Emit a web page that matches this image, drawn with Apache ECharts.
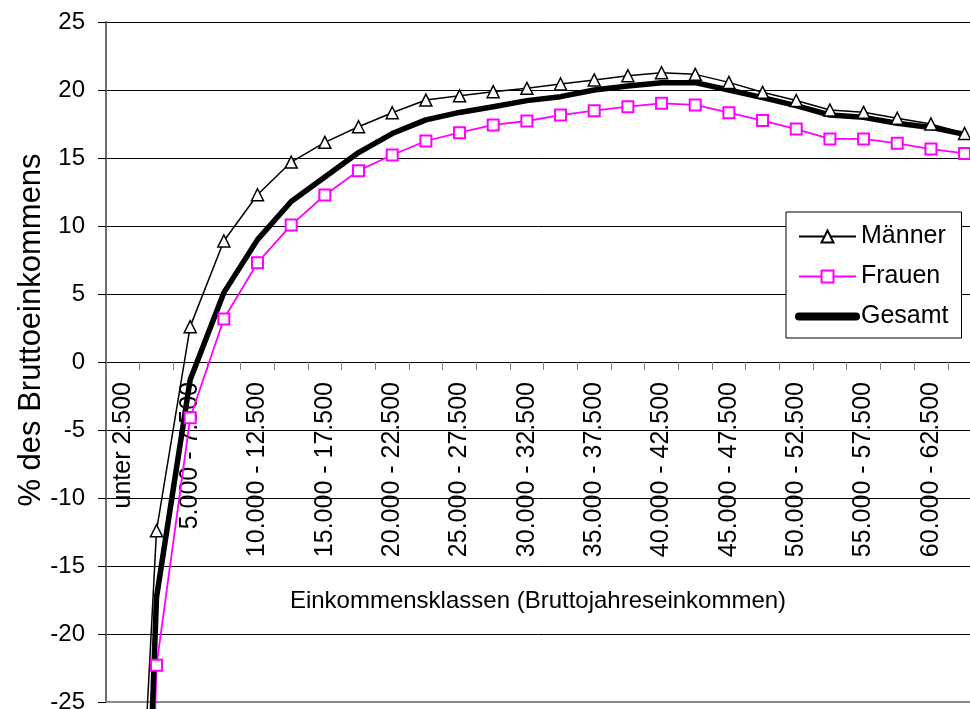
<!DOCTYPE html>
<html>
<head>
<meta charset="utf-8">
<script src="https://cdn.jsdelivr.net/npm/echarts@6/dist/echarts.min.js"></script>
<style>
  html, body { margin: 0; padding: 0; background: #fff; }
  #chart { width: 970px; height: 709px; }
</style>
</head>
<body>
<div id="chart"></div>
<script>
// Einkommensklassen (Bruttojahreseinkommen, EUR)
const categories = [
  "unter 2.500", "2.500 - 5.000", "5.000 - 7.500", "7.500 - 10.000",
  "10.000 - 12.500", "12.500 - 15.000", "15.000 - 17.500", "17.500 - 20.000",
  "20.000 - 22.500", "22.500 - 25.000", "25.000 - 27.500", "27.500 - 30.000",
  "30.000 - 32.500", "32.500 - 35.000", "35.000 - 37.500", "37.500 - 40.000",
  "40.000 - 42.500", "42.500 - 45.000", "45.000 - 47.500", "47.500 - 50.000",
  "50.000 - 52.500", "52.500 - 55.000", "55.000 - 57.500", "57.500 - 60.000",
  "60.000 - 62.500", "62.500 - 65.000"
];

// Anteil in % des Bruttoeinkommens
const maenner = [-60, -12.4, 2.6, 8.9, 12.3, 14.7, 16.15, 17.3, 18.33, 19.26,
  19.57, 19.88, 20.12, 20.44, 20.74, 21.05, 21.27, 21.15, 20.56, 19.83,
  19.23, 18.53, 18.36, 17.92, 17.5, 16.8];
const frauen = [-110, -22.3, -4.1, 3.16, 7.3, 10.07, 12.28, 14.07, 15.22, 16.25,
  16.86, 17.43, 17.72, 18.16, 18.48, 18.77, 19.02, 18.9, 18.33, 17.75,
  17.13, 16.4, 16.4, 16.08, 15.66, 15.34];
const gesamt = [-85, -17.3, -1.3, 5.1, 9.0, 11.8, 13.6, 15.4, 16.8, 17.8,
  18.35, 18.77, 19.22, 19.51, 20.0, 20.29, 20.54, 20.54, 20.0, 19.44,
  18.85, 18.16, 17.99, 17.55, 17.25, 16.74];

const yMin = -25, yMax = 25, yStep = 5;

const FONT = "'Liberation Sans', Arial, sans-serif";
const chart = echarts.init(document.getElementById('chart'), null, { renderer: 'canvas' });

// plot frame
const gridTop = 22, gridHeight = 680, bandWidth = 33.67;
// the category axis is drawn through value 0
const zeroOffset = -gridHeight * (0 - yMin) / (yMax - yMin);

chart.setOption({
  animation: false,
  backgroundColor: '#ffffff',
  textStyle: { fontFamily: FONT, color: '#000' },
  grid: {
    left: 106, top: gridTop,
    width: bandWidth * categories.length, height: gridHeight,
    containLabel: false, outerBoundsMode: 'none'
  },
  xAxis: [{
    type: 'category',
    data: categories,
    boundaryGap: true,
    position: 'bottom',
    offset: zeroOffset,
    axisLine: { onZero: false, lineStyle: { color: '#000', width: 1 } },
    axisTick: { show: true, interval: 0, length: 8, lineStyle: { color: '#808080', width: 1 } },
    axisLabel: {
      interval: 1, rotate: 90, margin: 20,
      fontSize: 25, color: '#000', fontFamily: FONT
    },
    splitLine: { show: false }
  }, {
    type: 'category',
    data: categories,
    position: 'bottom',
    axisLine: { onZero: false, lineStyle: { color: '#8c8c8c', width: 2 } },
    axisTick: { show: false },
    axisLabel: { show: false },
    splitLine: { show: false }
  }],
  yAxis: {
    type: 'value',
    min: yMin, max: yMax, interval: yStep,
    axisLine: { show: true, lineStyle: { color: '#6e6e6e', width: 2 } },
    axisTick: { show: true, inside: false, length: 8, lineStyle: { color: '#000', width: 1 } },
    axisLabel: { margin: 21, fontSize: 24, color: '#000', fontFamily: FONT },
    splitLine: { show: true, showMinLine: false, lineStyle: { color: '#000', width: 1 } }
  },
  legend: {
    orient: 'vertical',
    left: 786, top: 212,
    itemWidth: 57, itemHeight: 15, itemGap: 15,
    padding: [12, 13, 9, 9],
    backgroundColor: '#ffffff',
    borderColor: '#000', borderWidth: 1,
    textStyle: { fontSize: 25, color: '#000', fontFamily: FONT },
    data: [
      'Männer',
      'Frauen',
      { name: 'Gesamt', itemStyle: { opacity: 0 }, lineStyle: { width: 8, cap: 'round' } }
    ]
  },
  graphic: [{
    type: 'text',
    x: 538, y: 601,
    style: {
      text: 'Einkommensklassen (Bruttojahreseinkommen)',
      fontSize: 24, fontFamily: FONT, fill: '#000',
      align: 'center', verticalAlign: 'middle'
    }
  }, {
    type: 'text',
    x: 31, y: 330,
    rotation: Math.PI / 2,
    style: {
      text: '% des Bruttoeinkommens',
      fontSize: 31, fontFamily: FONT, fill: '#000',
      align: 'center', verticalAlign: 'middle'
    }
  }],
  series: [{
    name: 'Männer',
    type: 'line',
    data: maenner,
    clip: false,
    symbol: 'triangle', symbolSize: 12,
    lineStyle: { color: '#000', width: 1.5, join: 'round' },
    itemStyle: { color: '#ffffff', borderColor: '#000', borderWidth: 1.5 }
  }, {
    name: 'Frauen',
    type: 'line',
    data: frauen,
    clip: false,
    symbol: 'rect', symbolSize: 11,
    lineStyle: { color: '#ff00ff', width: 1.8, join: 'round' },
    itemStyle: { color: '#ffffff', borderColor: '#ff00ff', borderWidth: 2 }
  }, {
    name: 'Gesamt',
    type: 'line',
    data: gesamt,
    clip: false,
    symbol: 'none',
    lineStyle: { color: '#000', width: 5.5, join: 'round', cap: 'round' },
    itemStyle: { color: '#000' }
  }]
});
</script>
</body>
</html>
